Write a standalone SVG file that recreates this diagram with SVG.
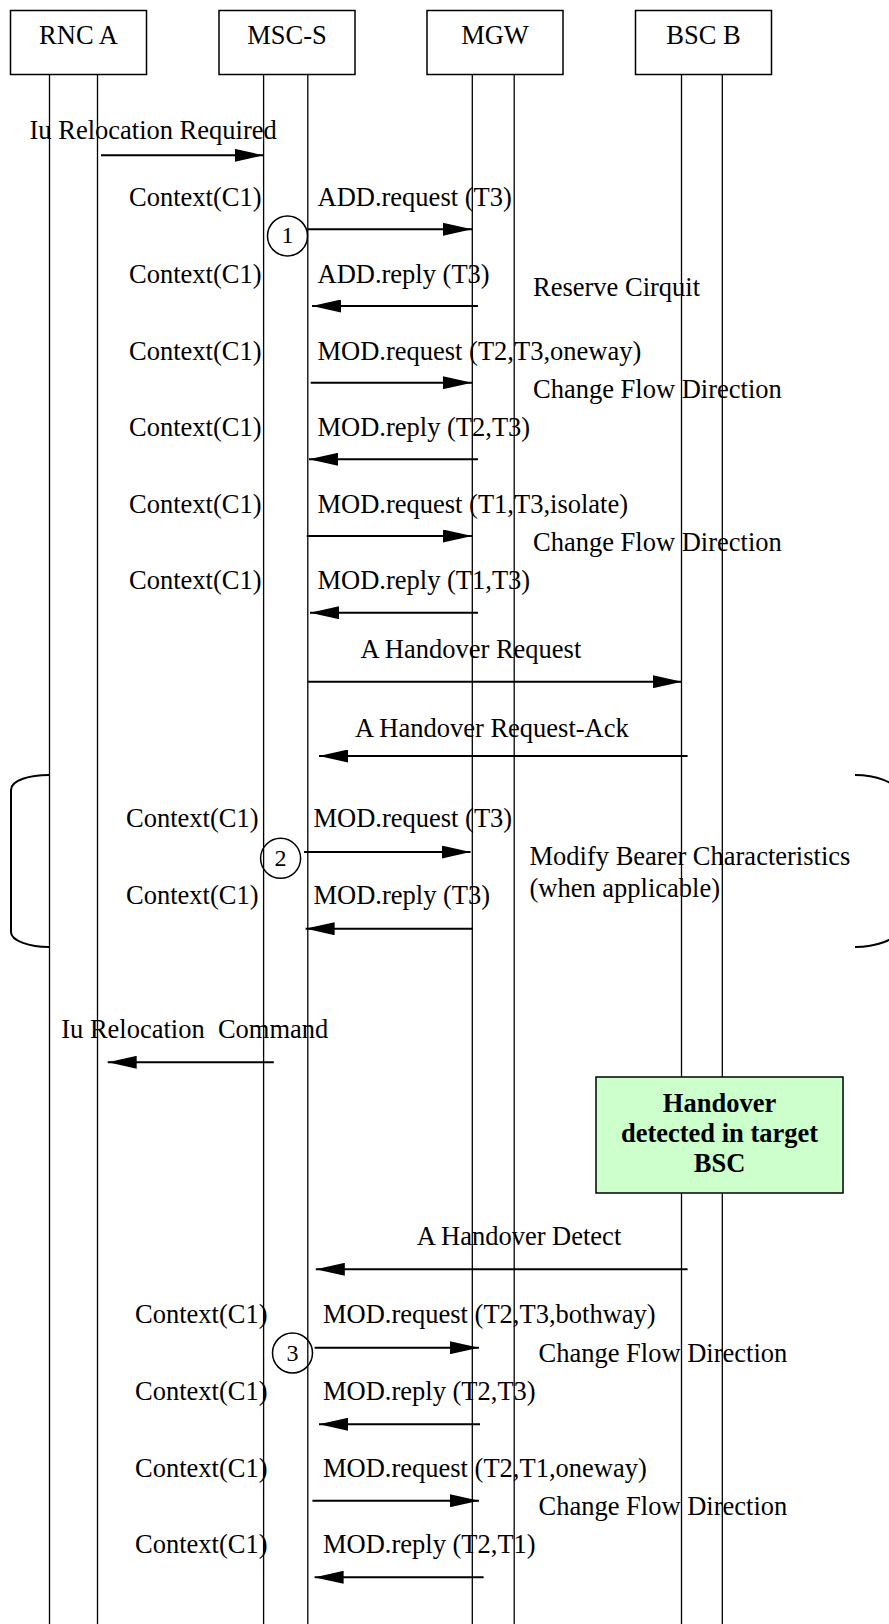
<svg xmlns="http://www.w3.org/2000/svg" width="889" height="1624" viewBox="0 0 889 1624">
<style>
text{font-family:"Liberation Serif","Times New Roman",serif;font-size:26.5px;fill:#000}
.c{text-anchor:middle}
.b{font-weight:bold}
.box{fill:#fff;stroke:#000;stroke-width:1.5}
.life{stroke:#000;stroke-width:1.3}
.msg{stroke:#000;stroke-width:2;fill:none;marker-end:url(#ah)}
.circ{fill:none;stroke:#000;stroke-width:1.5}
.brk{fill:none;stroke:#000;stroke-width:2}
</style>
<defs>
<marker id="ah" markerUnits="userSpaceOnUse" markerWidth="29" markerHeight="13" refX="29" refY="6.5" orient="auto">
<path d="M0,0 L29,6.5 L0,13 Z" fill="#000"/>
</marker>
</defs>
<g id="lifelines">
<line class="life" x1="49.5" y1="74" x2="49.5" y2="1624"/>
<line class="life" x1="97.5" y1="74" x2="97.5" y2="1624"/>
<line class="life" x1="263.6" y1="74" x2="263.6" y2="1624"/>
<line class="life" x1="307.8" y1="74" x2="307.8" y2="1624"/>
<line class="life" x1="472.3" y1="74" x2="472.3" y2="1624"/>
<line class="life" x1="514.2" y1="74" x2="514.2" y2="1624"/>
<line class="life" x1="681.5" y1="74" x2="681.5" y2="1624"/>
<line class="life" x1="722.3" y1="74" x2="722.3" y2="1624"/>
</g>
<g id="node-rnc-a"><rect class="box" x="10.5" y="10.5" width="136" height="64"/><text class="c" x="78.5" y="44">RNC A</text></g>
<g id="node-msc-s"><rect class="box" x="219" y="10.5" width="136" height="64"/><text class="c" x="287" y="44">MSC-S</text></g>
<g id="node-mgw"><rect class="box" x="427" y="10.5" width="136" height="64"/><text class="c" x="495" y="44">MGW</text></g>
<g id="node-bsc-b"><rect class="box" x="635.5" y="10.5" width="136" height="64"/><text class="c" x="703.5" y="44">BSC B</text></g>
<g id="brackets">
<path class="brk" d="M49,775 C30,775 11,780 11,790 L11,932 C11,941 30,947 49,947"/>
<path class="brk" d="M855,775 C875,775 897,782 897,793 L897,930 C897,940 875,947 855,947"/>
</g>
<g id="node-handover-detected">
<rect x="596" y="1077" width="247" height="116" fill="#ccffcc" stroke="#000" stroke-width="1.5"/>
<text class="c b" x="719.5" y="1111.5">Handover</text>
<text class="c b" x="719.5" y="1141.5">detected in target</text>
<text class="c b" x="719.5" y="1171.5">BSC</text>
</g>
<g id="markers-circles">
<circle class="circ" cx="287.5" cy="236" r="20"/><text class="c" style="font-size:24px" x="287.5" y="243">1</text>
<circle class="circ" cx="280.6" cy="858.3" r="20"/><text class="c" style="font-size:24px" x="280.6" y="865.5">2</text>
<circle class="circ" cx="292.5" cy="1353" r="20"/><text class="c" style="font-size:24px" x="292.5" y="1360.5">3</text>
</g>
<g id="connectors">
<line class="msg" x1="101" y1="155.3" x2="263.5" y2="155.3"/>
<line class="msg" x1="308" y1="229.3" x2="472" y2="229.3"/>
<line class="msg" x1="478" y1="306" x2="312" y2="306"/>
<line class="msg" x1="310.7" y1="382.7" x2="472" y2="382.7"/>
<line class="msg" x1="478" y1="459.3" x2="309" y2="459.3"/>
<line class="msg" x1="306.7" y1="536" x2="472" y2="536"/>
<line class="msg" x1="478" y1="612.7" x2="310" y2="612.7"/>
<line class="msg" x1="308" y1="681.7" x2="682" y2="681.7"/>
<line class="msg" x1="687.6" y1="756" x2="319" y2="756"/>
<line class="msg" x1="304" y1="852" x2="470.5" y2="852"/>
<line class="msg" x1="473" y1="928.7" x2="305.6" y2="928.7"/>
<line class="msg" x1="273.8" y1="1062.3" x2="107.7" y2="1062.3"/>
<line class="msg" x1="687.6" y1="1269.3" x2="315.8" y2="1269.3"/>
<line class="msg" x1="314.6" y1="1347.7" x2="479" y2="1347.7"/>
<line class="msg" x1="480" y1="1424.3" x2="319" y2="1424.3"/>
<line class="msg" x1="312.4" y1="1500.7" x2="479" y2="1500.7"/>
<line class="msg" x1="483.6" y1="1577.3" x2="314.6" y2="1577.3"/>
</g>
<g id="labels">
<text x="29.5" y="139">Iu Relocation Required</text>
<text x="129" y="206">Context(C1)</text><text x="317.5" y="206">ADD.request (T3)</text>
<text x="129" y="283">Context(C1)</text><text x="317.5" y="283">ADD.reply (T3)</text>
<text x="533" y="295.7">Reserve Cirquit</text>
<text x="129" y="360">Context(C1)</text><text x="317.5" y="360">MOD.request (T2,T3,oneway)</text>
<text x="533" y="398">Change Flow Direction</text>
<text x="129" y="436">Context(C1)</text><text x="317.5" y="436">MOD.reply (T2,T3)</text>
<text x="129" y="512.7">Context(C1)</text><text x="317.5" y="512.7">MOD.request (T1,T3,isolate)</text>
<text x="533" y="550.7">Change Flow Direction</text>
<text x="129" y="589.3">Context(C1)</text><text x="317.5" y="589.3">MOD.reply (T1,T3)</text>
<text x="360.5" y="658">A Handover Request</text>
<text x="355" y="736.7">A Handover Request-Ack</text>
<text x="126" y="826.7">Context(C1)</text><text x="313.5" y="826.7">MOD.request (T3)</text>
<text x="529.5" y="865">Modify Bearer Characteristics</text>
<text x="529.5" y="896.5">(when applicable)</text>
<text x="126" y="904">Context(C1)</text><text x="313.5" y="904">MOD.reply (T3)</text>
<text x="61.2" y="1037.7" xml:space="preserve">Iu Relocation  Command</text>
<text x="416.7" y="1245">A Handover Detect</text>
<text x="135" y="1323.3">Context(C1)</text><text x="323" y="1323.3">MOD.request (T2,T3,bothway)</text>
<text x="538.5" y="1361.7">Change Flow Direction</text>
<text x="135" y="1400">Context(C1)</text><text x="323" y="1400">MOD.reply (T2,T3)</text>
<text x="135" y="1476.7">Context(C1)</text><text x="323" y="1476.7">MOD.request (T2,T1,oneway)</text>
<text x="538.5" y="1515">Change Flow Direction</text>
<text x="135" y="1553.3">Context(C1)</text><text x="323" y="1553.3">MOD.reply (T2,T1)</text>
</g>
</svg>
